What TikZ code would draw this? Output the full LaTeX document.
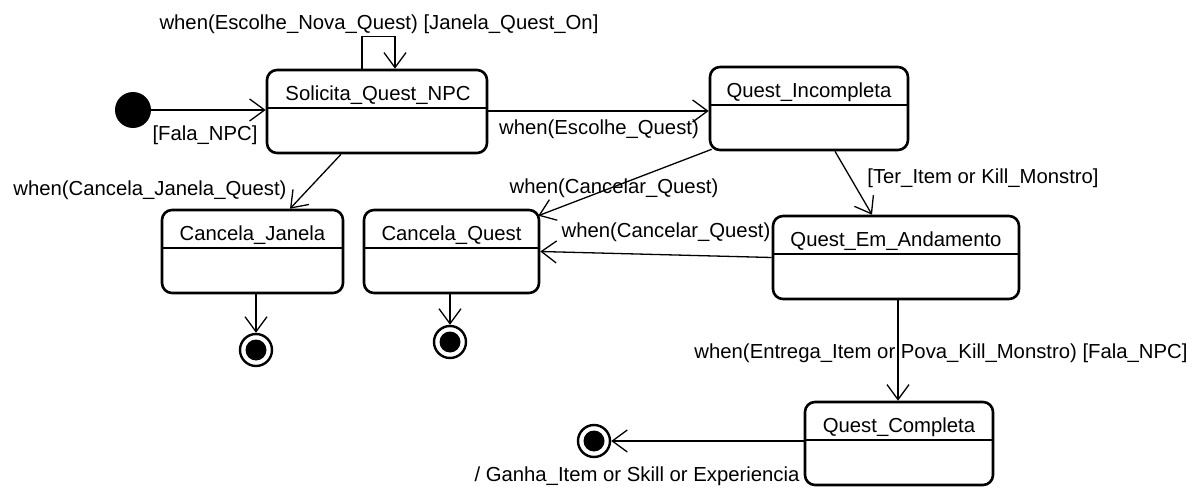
\documentclass[tikz,border=0pt]{standalone}
\usepackage{fontspec}
\setmainfont{Liberation Sans}
\usetikzlibrary{arrows.meta,calc}

\tikzset{
  state/.style={draw=black, line width=2.6pt, rounded corners=10pt, inner sep=0pt,
    path picture={\draw[line width=1.4pt]
      ($(path picture bounding box.north west)+(0,38)$) --
      ($(path picture bounding box.north east)+(0,38)$);}},
  title/.style={anchor=base, inner sep=0pt},
  lbl/.style={anchor=base, inner sep=0pt},
  tr/.style={line width=1.3pt, -{Straight Barb[length=15pt,width=22pt,line width=1.3pt]}},
  initial/.style={circle, fill=black, minimum size=36pt, inner sep=0pt},
  final/.style={circle, draw=black, line width=2.4pt, minimum size=32pt, inner sep=0pt,
    path picture={\fill (path picture bounding box.center) circle (10.5pt);}}
}

\begin{document}
\begin{tikzpicture}[x=1pt, y=-1pt, font=\fontsize{20.3}{24}\selectfont]
\useasboundingbox (0,0) rectangle (1195,487);

% states
\node[state, minimum width=220pt, minimum height=83pt] (sol) at (377,111.5) {};
\node[state, minimum width=198pt, minimum height=83pt] (qi)  at (809,108.5) {};
\node[state, minimum width=181pt, minimum height=83pt] (cj)  at (252.5,251.5) {};
\node[state, minimum width=175pt, minimum height=83pt] (cq)  at (451.5,251.5) {};
\node[state, minimum width=246pt, minimum height=83pt] (qea) at (896,257.5) {};
\node[state, minimum width=188pt, minimum height=83pt] (qc)  at (899,443.5) {};

% state names
\node[title] (solt) at ($(sol.north)+(1,31.5)$) {Solicita\_Quest\_NPC};
\node[title] (qit)  at ($(qi.north)+(0,31.5)$)  {Quest\_Incompleta};
\node[title] (cjt)  at ($(cj.north)+(0,31.5)$)  {Cancela\_Janela};
\node[title] (cqt)  at ($(cq.north)+(0,31.5)$)  {Cancela\_Quest};
\node[title] (qeat) at ($(qea.north)+(0,31.5)$) {Quest\_Em\_Andamento};
\node[title] (qct)  at ($(qc.north)+(0,31.5)$)  {Quest\_Completa};

% pseudo states
\node[initial] (init) at (133,110) {};
\node[final] (f1) at (256,350) {};
\node[final] (f2) at (450,342) {};
\node[final] (f3) at (594,441) {};

% transitions
\draw[tr] (init) -- (sol.west |- init);
\draw[tr] ($(sol.north)+(-15,0)$) -- ++(0,-32) -| ($(sol.north)+(18,0)$);
\draw[tr] (sol.east |- 0,111) -- (qi.west |- 0,111);
\draw[tr] ($(sol.south)+(-36,0)$) -- ($(cj.north)+(37.5,0)$);
\draw[tr] ($(qi.south west)+(3,-2)$) -- ($(cq.north east)+(-2,7)$);
\draw[tr] (qea.west) -- (cq.east);
\draw[tr] ($(qi.south)+(26,0)$) -- ($(qea.north)+(-24,0)$);
\draw[tr] (qea.south |- qea.south) ++(2,0) coordinate (qeab) -- (qeab |- qc.north);
\draw[tr] (f1 |- cj.south) -- (f1);
\draw[tr] (f2 |- cq.south) -- (f2);
\draw[tr] (qc.west |- f3) -- (f3);

% transition labels
\node[lbl] (l1) at (379,30)  {when(Escolhe\_Nova\_Quest) [Janela\_Quest\_On]};
\node[lbl] (l2) at (205,140) {[Fala\_NPC]};
\node[lbl] (l3) at (599,134) {when(Escolhe\_Quest)};
\node[lbl] (l4) at (150,195) {when(Cancela\_Janela\_Quest)};
\node[lbl] (l5) at (614,193) {when(Cancelar\_Quest)};
\node[lbl] (l6) at (666,237) {when(Cancelar\_Quest)};
\node[lbl] (l7) at (983,183) {[Ter\_Item or Kill\_Monstro]};
\node[lbl] (l8) at (941,358) {when(Entrega\_Item or Pova\_Kill\_Monstro) [Fala\_NPC]};
\node[lbl] (l9) at (637,481) {/ Ganha\_Item or Skill or Experiencia};
\end{tikzpicture}
\end{document}
